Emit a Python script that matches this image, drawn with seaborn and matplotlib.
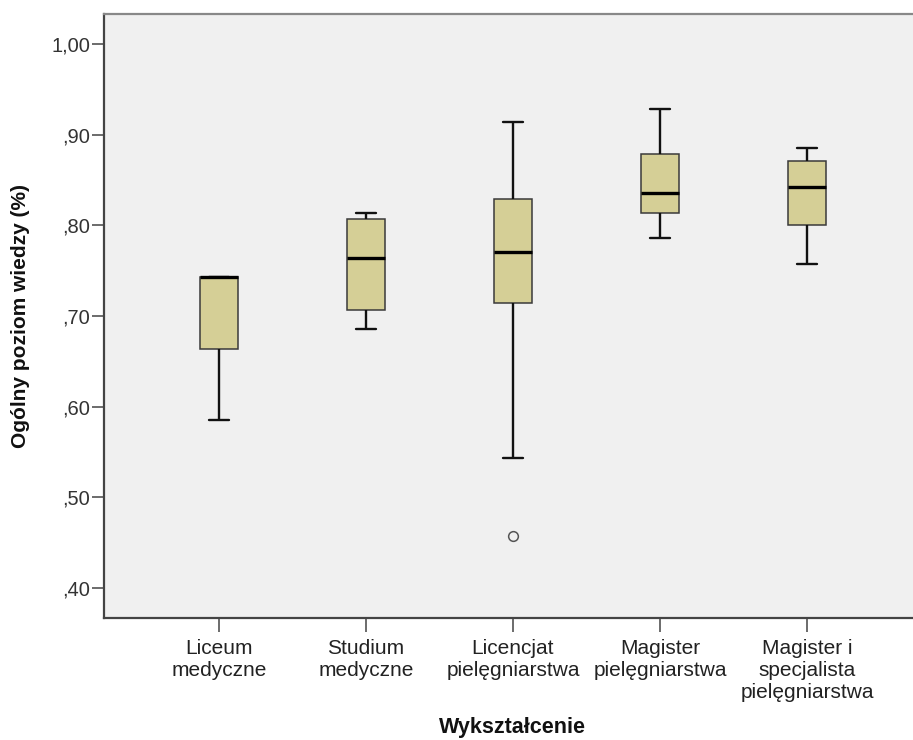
import matplotlib
matplotlib.use("Agg")
import matplotlib.pyplot as plt
from matplotlib.ticker import FuncFormatter
import seaborn as sns
import pandas as pd

# Education groups (x axis) and five-number summaries of the overall knowledge score
categories = [
    "Liceum\nmedyczne",
    "Studium\nmedyczne",
    "Licencjat\npielęgniarstwa",
    "Magister\npielęgniarstwa",
    "Magister i\nspecjalista\npielęgniarstwa",
]
whisker_low = [0.585, 0.686, 0.543, 0.786, 0.757]
q1 = [0.664, 0.707, 0.714, 0.814, 0.800]
median = [0.7435, 0.7645, 0.771, 0.836, 0.843]
q3 = [0.7435, 0.807, 0.8295, 0.879, 0.871]
whisker_high = [0.7435, 0.814, 0.9145, 0.9285, 0.8855]
outliers = [[], [], [0.457], [], []]

y_ticks = [0.40, 0.50, 0.60, 0.70, 0.80, 0.90, 1.00]


def group_values(lo, a, m, b, hi, out):
    # nine ordered observations: quartiles fall on positions 2, 4 and 6
    low = sorted(out)[:2]
    low += [lo] * (2 - len(low))
    return low + [a, a, m, b, b, hi, hi]


rows = []
for i, cat in enumerate(categories):
    vals = group_values(whisker_low[i], q1[i], median[i], q3[i],
                        whisker_high[i], outliers[i])
    rows += [(cat, v) for v in vals]
df = pd.DataFrame(rows, columns=["Wykształcenie", "wiedza"])

sns.set_style("white")
plt.rcParams["font.family"] = ["Liberation Sans", "DejaVu Sans"]

fig = plt.figure(figsize=(9.13, 7.40), dpi=100)
W, H = 913, 740
left_px, right_px, top_px, bottom_px = 104, 940, 14, 618
ax = fig.add_axes([left_px / W, 1 - bottom_px / H,
                   (right_px - left_px) / W, (bottom_px - top_px) / H])
ax.set_facecolor("#F0F0F0")

sns.boxplot(
    data=df, x="Wykształcenie", y="wiedza", order=categories,
    width=0.26, color="#D5CF96", saturation=1, whis=1.5, ax=ax,
    boxprops=dict(edgecolor="#3a3a3a", linewidth=1.1),
    medianprops=dict(color="black", linewidth=2.4),
    whiskerprops=dict(color="#111111", linewidth=1.7),
    capprops=dict(color="#111111", linewidth=1.7),
    flierprops=dict(marker="o", markersize=7, markerfacecolor="none",
                    markeredgecolor="#555555", markeredgewidth=1.1),
)

ax.set_xlim(-0.782, (right_px - 219) / 147.0)
ax.set_ylim(0.3668, 1.0334)
ax.set_yticks(y_ticks)
ax.yaxis.set_major_formatter(FuncFormatter(
    lambda v, p: f"{v:.2f}".replace("0.", ",").replace(".", ",")))

for side in ("left", "bottom"):
    ax.spines[side].set_color("#444444")
    ax.spines[side].set_linewidth(1.6)
ax.spines["top"].set_color("#888888")
ax.spines["top"].set_linewidth(1.6)
ax.spines["right"].set_visible(False)

ax.tick_params(axis="y", direction="out", length=8.5, width=1.1,
               color="#444444", labelsize=14.5, labelcolor="#333333", pad=1.5,
               left=True)
ax.tick_params(axis="x", direction="out", length=10, width=1.1,
               color="#444444", labelsize=15, labelcolor="#222222", pad=5,
               bottom=True)
for lab in ax.get_xticklabels():
    lab.set_linespacing(1.2)
    lab.set_va("top")

ax.set_xlabel("Wykształcenie", fontsize=15.5, fontweight="bold",
              color="#111111")
ax.xaxis.set_label_coords((512 - left_px) / (right_px - left_px),
                          -(728 - bottom_px) / (bottom_px - top_px))
ax.xaxis.label.set_va("center")
ax.set_ylabel("Ogólny poziom wiedzy (%)", fontsize=15, fontweight="bold",
              color="#111111")
ax.yaxis.set_label_coords(-(104 - 30) / (right_px - left_px), 0.5)

fig.savefig("out.png", dpi=100)
